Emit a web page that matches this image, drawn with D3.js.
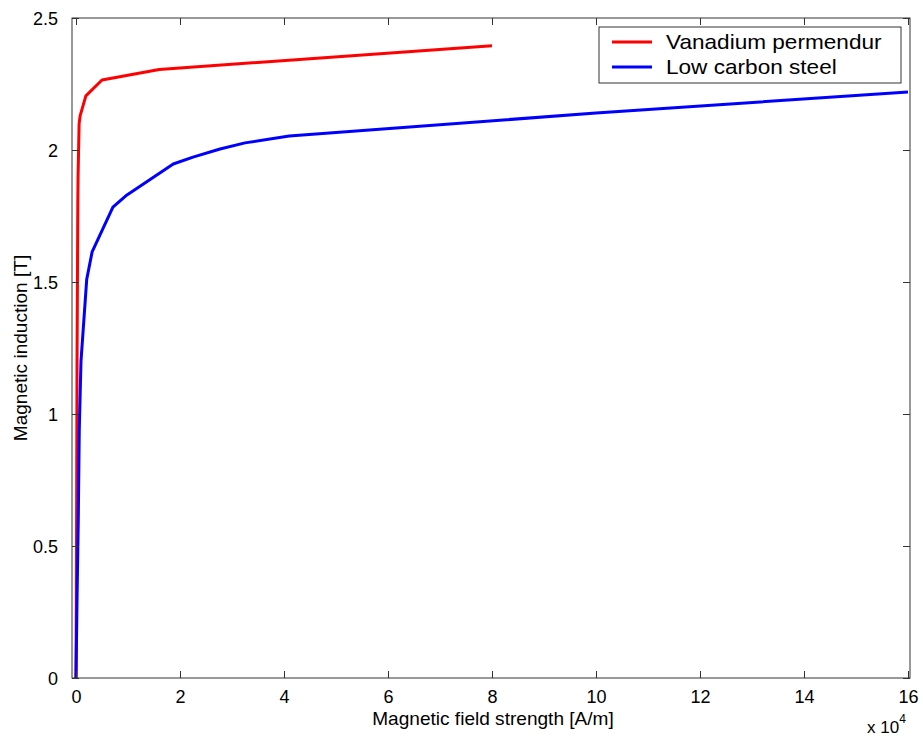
<!DOCTYPE html>
<html>
<head>
<meta charset="utf-8">
<script src="https://cdn.jsdelivr.net/npm/d3@7"></script>
<style>
  body { margin: 0; background: #fff; }
  text { font-family: "Liberation Sans", Arial, sans-serif; fill: #000; }
</style>
</head>
<body>
<div id="chart"></div>
<script>
// data: H in A/m, B in T
const seriesNames = ["Vanadium permendur", "Low carbon steel"];
const seriesColors = ["#ff0000", "#0000ff"];
const vanadiumH = [0, 100, 200, 300, 350, 400, 500, 600, 800, 1900, 5000, 16000, 80000];
const vanadiumB = [0, 0.5, 1.2, 1.6, 1.8, 1.9, 2.0, 2.1, 2.13, 2.205, 2.265, 2.305, 2.395];
const steelH = [0, 200, 440, 630, 960, 2060, 3100, 7100, 9800, 18700, 22500, 27700, 32500, 41000, 100000, 160000];
const steelB = [0, 0.3, 0.6, 0.94, 1.2, 1.51, 1.614, 1.784, 1.83, 1.947, 1.973, 2.004, 2.027, 2.053, 2.14, 2.22];
const xTicks = [0, 2, 4, 6, 8, 10, 12, 14, 16];      // x 10^4
const yTicks = [0, 0.5, 1, 1.5, 2, 2.5];

const svgWidth = 923, svgHeight = 738;
const plotLeft = 72, plotRight = 910, plotTop = 18, plotBottom = 678;

const svg = d3.select("#chart").append("svg")
  .attr("width", svgWidth)
  .attr("height", svgHeight);

// x scale: 0 sits at 76px, 16e4 at 908px
const xScale = d3.scaleLinear([0, 160000], [76, 908]);
const yScale = d3.scaleLinear([0, 2.5], [plotBottom, plotTop]);

// lines
const line = d3.line().x(d => xScale(d[0])).y(d => yScale(d[1]));
const series = [
  d3.zip(vanadiumH, vanadiumB),
  d3.zip(steelH, steelB)
];

svg.selectAll(".curve")
  .data(series)
  .enter()
  .append("path")
  .attr("class", "curve")
  .attr("d", line)
  .attr("fill", "none")
  .attr("stroke", (d, i) => seriesColors[i])
  .attr("stroke-width", 3)
  .attr("stroke-linejoin", "round");

// axes box
svg.append("rect")
  .attr("x", plotLeft).attr("y", plotTop)
  .attr("width", plotRight - plotLeft).attr("height", plotBottom - plotTop)
  .attr("fill", "none")
  .attr("stroke", "#333")
  .attr("stroke-width", 1);

const tickLen = 7;
const xAxisB = d3.axisBottom(xScale).tickValues(xTicks.map(t => t * 1e4))
  .tickSizeInner(-tickLen).tickSizeOuter(0).tickPadding(tickLen + 7)
  .tickFormat(d => d / 1e4);
const xAxisT = d3.axisTop(xScale).tickValues(xTicks.map(t => t * 1e4))
  .tickSizeInner(-tickLen).tickSizeOuter(0).tickFormat("");
const yAxisL = d3.axisLeft(yScale).tickValues(yTicks)
  .tickSizeInner(-tickLen).tickSizeOuter(0).tickPadding(tickLen + 7)
  .tickFormat(d3.format("~g"));
const yAxisR = d3.axisRight(yScale).tickValues(yTicks)
  .tickSizeInner(-tickLen).tickSizeOuter(0).tickFormat("");

function styleAxis(g) {
  g.select(".domain").remove();
  g.selectAll("line").attr("stroke", "#333");
  g.selectAll("text").style("font-size", "18px").attr("fill", "#000");
}

svg.append("g").attr("transform", `translate(0,${plotBottom})`).call(xAxisB).call(styleAxis)
  .selectAll("text").attr("dy", "0.6em");
svg.append("g").attr("transform", `translate(0,${plotTop})`).call(xAxisT).call(styleAxis);
svg.append("g").attr("transform", `translate(${plotLeft},0)`).call(yAxisL).call(styleAxis)
  .selectAll("text").attr("dy", "0.35em");
svg.append("g").attr("transform", `translate(${plotRight},0)`).call(yAxisR).call(styleAxis);

// axis labels
svg.append("text")
  .attr("transform", `translate(${(plotLeft + plotRight) / 2 + 2},725) scale(1.06,1)`)
  .attr("text-anchor", "middle")
  .style("font-size", "18px")
  .text("Magnetic field strength [A/m]");

svg.append("text")
  .attr("transform", `translate(27,${(plotTop + plotBottom) / 2}) rotate(-90) scale(1.06,1)`)
  .attr("text-anchor", "middle")
  .style("font-size", "18px")
  .text("Magnetic induction [T]");

// exponent
const expo = svg.append("text")
  .attr("x", 867).attr("y", 733)
  .style("font-size", "17px");
expo.append("tspan").text("x 10");
expo.append("tspan").attr("dy", -10).style("font-size", "12px").text("4");

// legend
const legend = svg.append("g");
legend.append("rect")
  .attr("x", 599).attr("y", 27)
  .attr("width", 302).attr("height", 56)
  .attr("fill", "#fff")
  .attr("stroke", "#333")
  .attr("stroke-width", 1);

const rows = legend.selectAll(".row")
  .data(seriesNames)
  .enter()
  .append("g")
  .attr("class", "row")
  .attr("transform", (d, i) => `translate(0,${42 + i * 25})`);

rows.append("line")
  .attr("x1", 612).attr("x2", 652)
  .attr("stroke", (d, i) => seriesColors[i])
  .attr("stroke-width", 3);

rows.append("text")
  .attr("transform", "translate(666,0) scale(1.13,1)")
  .attr("dy", "0.35em")
  .style("font-size", "20px")
  .text(d => d);
</script>
</body>
</html>
